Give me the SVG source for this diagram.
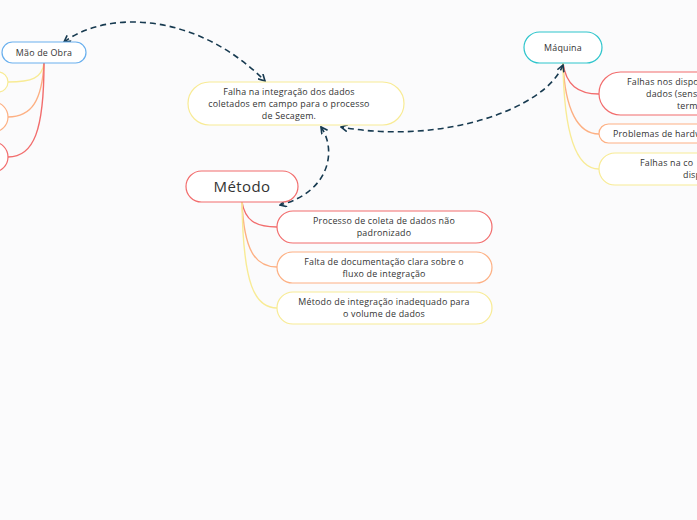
<svg xmlns="http://www.w3.org/2000/svg" width="697" height="520" viewBox="0 0 697 520">
<style>
text{font-family:"Open Sans","Noto Sans","DejaVu Sans",sans-serif;fill:#333;font-size:8.9px;letter-spacing:0.2px;text-anchor:middle}
.n{fill:#fff;stroke-width:1.2}
.r{stroke:#f26d6d}.o{stroke:#fdb083}.y{stroke:#f8eb95}
.b{stroke:#6ab0ee}.c{stroke:#2ec5cc}
.br{fill:none;stroke-width:1.4}
.rel{fill:none;stroke:#173a50;stroke-width:1.6;stroke-dasharray:6 4}
.s{text-anchor:start}
</style>
<defs>
<marker id="ah" viewBox="0 0 8 8" refX="7" refY="4" markerWidth="8" markerHeight="8" markerUnits="userSpaceOnUse" orient="auto-start-reverse">
<path d="M0.5,0.5 L7,4 L0.5,7.5" fill="none" stroke="#173a50" stroke-width="1.6"/>
</marker>
</defs>
<rect width="697" height="520" fill="#fbfbfc"/>
<g id="connectors">
<path class="br y" d="M44,63 C42,78 32,82 8,82"/>
<path class="br o" d="M44,63 C42,100 32,117 8,117"/>
<path class="br r" d="M44,63 C44,130 34,157 8,157"/>
<path class="br r" d="M242,202 C245,220 255,227 277,227"/>
<path class="br o" d="M242,202 C244,250 255,267 277,267"/>
<path class="br y" d="M242,202 C243,285 255,308 277,308"/>
<path class="br r" d="M563,63 C566,85 578,94 599,94"/>
<path class="br o" d="M563,63 C565,110 578,134 599,134"/>
<path class="br y" d="M563,63 C564,140 578,169 599,169"/>
<path class="rel" marker-start="url(#ah)" marker-end="url(#ah)" d="M64,42 C110,8 200,15 265,81"/>
<path class="rel" marker-start="url(#ah)" marker-end="url(#ah)" d="M563,65 C545,110 440,145 341,127"/>
<path class="rel" marker-start="url(#ah)" marker-end="url(#ah)" d="M321,127 C337,150 330,192 280,205"/>
</g>
<g id="central">
<rect class="n y" x="188" y="82" width="216" height="43" rx="21.5"/>
<text x="289" y="95">Falha na integração dos dados</text>
<text x="289" y="107">coletados em campo para o processo</text>
<text x="289" y="119">de Secagem.</text>
</g>
<g id="maodeobra">
<rect class="n b" x="2" y="42" width="84" height="21" rx="10.5"/>
<text x="44" y="56">Mão de Obra</text>
</g>
<g id="mao1"><rect class="n y" x="-100" y="72" width="108" height="20" rx="10"/></g>
<g id="mao2"><rect class="n o" x="-100" y="102" width="108" height="30" rx="15"/></g>
<g id="mao3"><rect class="n r" x="-100" y="142" width="108" height="30" rx="15"/></g>
<g id="metodo">
<rect class="n r" x="186" y="171" width="112" height="31" rx="15.5" stroke-width="2"/>
<text x="242" y="192" style="font-size:15px;letter-spacing:0.4px">Método</text>
</g>
<g id="metodo1">
<rect class="n r" x="277" y="211" width="215" height="32" rx="16"/>
<text x="384" y="224">Processo de coleta de dados não</text>
<text x="384" y="236">padronizado</text>
</g>
<g id="metodo2">
<rect class="n o" x="277" y="252" width="215" height="31" rx="15.5"/>
<text x="384" y="265">Falta de documentação clara sobre o</text>
<text x="384" y="277">fluxo de integração</text>
</g>
<g id="metodo3">
<rect class="n y" x="277" y="292" width="215" height="32" rx="16"/>
<text x="384" y="305">Método de integração inadequado para</text>
<text x="384" y="317">o volume de dados</text>
</g>
<g id="maquina">
<rect class="n c" x="524" y="32" width="78" height="31" rx="15.5"/>
<text x="563" y="51">Máquina</text>
</g>
<g id="maquina1">
<rect class="n r" x="599" y="72" width="160" height="43" rx="21.5"/>
<text class="s" x="627" y="85">Falhas nos dispo</text>
<text class="s" x="646" y="97">dados (sens</text>
<text class="s" x="677" y="109">term</text>
</g>
<g id="maquina2">
<rect class="n o" x="599" y="124" width="160" height="19" rx="9.5"/>
<text class="s" x="613" y="137">Problemas de hardw</text>
</g>
<g id="maquina3">
<rect class="n y" x="599" y="153" width="160" height="32" rx="16"/>
<text class="s" x="640" y="166">Falhas na co</text>
<text class="s" x="683" y="178">disp</text>
</g>
</svg>
